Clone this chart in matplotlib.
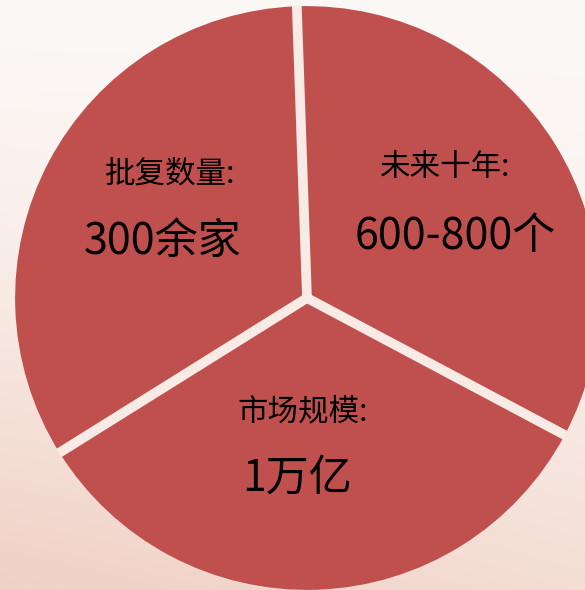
"""
Three-slice pie: approvals, market size, next decade
"""
import numpy as np
import matplotlib
matplotlib.use('Agg')
import matplotlib.pyplot as plt

plt.rcParams['font.family'] = ['Noto Sans CJK SC', 'DejaVu Sans']

# Data
shares = [1, 1, 1]
titles = ['批复数量:', '市场规模:', '未来十年:']
values = ['300余家', '1万亿', '600-800个']

# label centres (data units, pie radius = 1)
title_pos = [(-0.474, 0.430), (-0.014, -0.395), (0.478, 0.452)]
value_pos = [(-0.498, 0.195), (-0.035, -0.624), (0.512, 0.212)]

pie_color = '#C0504D'
gap_color = '#F8EAE4'

fig = plt.figure(figsize=(5.85, 5.90), dpi=100)
ax = fig.add_axes([0, 0, 1, 1])

# background: soft pinkish wash, lighter at top
xlim = (-307 / 289, (585 - 307) / 289)
ylim = (-(590 - 298) / 289, 298 / 289)
gy, gx = np.mgrid[0:1:200j, 0:1:200j]
top = np.array([252, 248, 246]) / 255
bot = np.array([240, 210, 198]) / 255
t = np.clip(gy ** 1.6 * 0.7 + (1 - gx) * gy ** 1.3 * 0.35, 0, 1)
bg = top[None, None, :] * (1 - t[..., None]) + bot[None, None, :] * t[..., None]
ax.imshow(bg, extent=[xlim[0], xlim[1], ylim[0], ylim[1]], origin='upper',
          aspect='auto', zorder=0, interpolation='bilinear')

wedges, _ = ax.pie(shares, startangle=92, counterclock=True, radius=1.01,
                   colors=[pie_color] * 3,
                   wedgeprops=dict(linewidth=0),
                   labels=None)

# light gaps along the slice borders
for w in wedges:
    w.set_zorder(2)
    a = np.deg2rad(w.theta1)
    ax.plot([0, 1.003 * w.r * np.cos(a)], [0, 1.003 * w.r * np.sin(a)],
            color=gap_color, lw=7, solid_capstyle='butt', zorder=2.5)

for (x, y), s in zip(title_pos, titles):
    ax.text(x, y, s, fontsize=22, ha='center', va='center', color='black', zorder=3)
for (x, y), s in zip(value_pos, values):
    ax.text(x, y, s, fontsize=31, ha='center', va='center', color='black', zorder=3)

ax.set_xlim(*xlim)
ax.set_ylim(*ylim)
ax.set_aspect('equal')
ax.axis('off')

plt.savefig('out.png', dpi=100)
